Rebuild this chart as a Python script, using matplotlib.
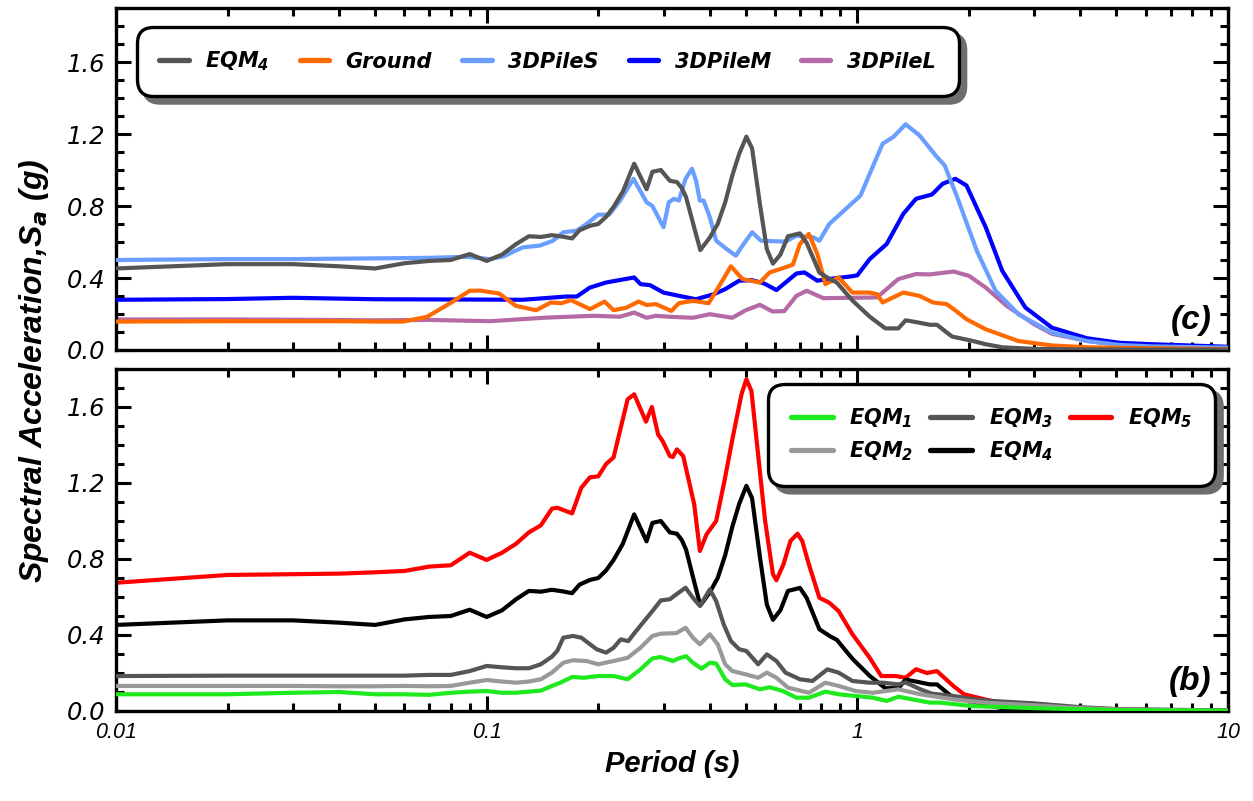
import matplotlib
matplotlib.use("Agg")
import matplotlib.pyplot as plt
from matplotlib import font_manager as fm
from matplotlib.lines import Line2D
from matplotlib.font_manager import FontProperties
from matplotlib.ticker import MultipleLocator, FixedLocator, LogLocator, NullFormatter

# ---------------- data (period [s], spectral acceleration [g]) ----------------
T_EQM1 = [0.01, 0.02, 0.03, 0.04, 0.05, 0.06, 0.07, 0.08, 0.09, 0.10, 0.11, 0.12, 0.13, 0.14, 0.15,
          0.158, 0.17, 0.183, 0.20, 0.22, 0.24, 0.26, 0.28, 0.295, 0.318, 0.33, 0.345, 0.36, 0.38,
          0.40, 0.416, 0.44, 0.46, 0.50, 0.546, 0.58, 0.63, 0.685, 0.74, 0.82, 0.89, 0.99, 1.1,
          1.2, 1.29, 1.41, 1.57, 1.67, 2.04, 3.0, 5.0, 10.0]
SA_EQM1 = [0.088, 0.088, 0.096, 0.100, 0.088, 0.088, 0.085, 0.096, 0.102, 0.105, 0.096, 0.096, 0.102,
           0.107, 0.132, 0.149, 0.179, 0.175, 0.184, 0.184, 0.167, 0.219, 0.277, 0.284, 0.263, 0.277,
           0.289, 0.254, 0.223, 0.254, 0.250, 0.167, 0.137, 0.140, 0.114, 0.125, 0.105, 0.070, 0.070,
           0.102, 0.088, 0.079, 0.070, 0.053, 0.075, 0.061, 0.044, 0.044, 0.026, 0.015, 0.005, 0.001]

T_EQM2 = [0.01, 0.02, 0.03, 0.04, 0.05, 0.06, 0.07, 0.08, 0.09, 0.10, 0.11, 0.12, 0.13, 0.14, 0.15,
          0.161, 0.171, 0.186, 0.20, 0.22, 0.24, 0.26, 0.28, 0.295, 0.325, 0.344, 0.36, 0.376, 0.40,
          0.42, 0.44, 0.46, 0.50, 0.54, 0.57, 0.605, 0.65, 0.74, 0.82, 0.89, 0.99, 1.1, 1.29, 1.48,
          1.82, 2.2, 3.0, 4.0, 5.0, 10.0]
SA_EQM2 = [0.132, 0.132, 0.132, 0.130, 0.130, 0.132, 0.130, 0.132, 0.149, 0.163, 0.155, 0.149, 0.155,
           0.167, 0.202, 0.254, 0.267, 0.263, 0.246, 0.263, 0.280, 0.333, 0.395, 0.407, 0.410, 0.438,
           0.386, 0.351, 0.404, 0.351, 0.246, 0.210, 0.193, 0.175, 0.202, 0.175, 0.123, 0.096, 0.149,
           0.132, 0.105, 0.096, 0.114, 0.088, 0.061, 0.044, 0.030, 0.015, 0.008, 0.002]

T_EQM3 = [0.01, 0.02, 0.03, 0.04, 0.05, 0.06, 0.07, 0.08, 0.09, 0.10, 0.11, 0.12, 0.13, 0.14, 0.15,
          0.155, 0.161, 0.171, 0.18, 0.198, 0.21, 0.22, 0.23, 0.241, 0.249, 0.264, 0.28, 0.295, 0.312,
          0.325, 0.344, 0.36, 0.376, 0.40, 0.416, 0.436, 0.456, 0.48, 0.502, 0.54, 0.57, 0.605, 0.64,
          0.70, 0.757, 0.83, 0.89, 0.97, 1.08, 1.17, 1.29, 1.35, 1.48, 1.59, 1.82, 2.04, 2.3, 3.0,
          4.0, 5.0, 10.0]
SA_EQM3 = [0.184, 0.186, 0.186, 0.186, 0.186, 0.186, 0.190, 0.190, 0.210, 0.237, 0.230, 0.225, 0.225,
           0.246, 0.286, 0.316, 0.386, 0.395, 0.386, 0.325, 0.307, 0.333, 0.377, 0.368, 0.404, 0.465,
           0.526, 0.582, 0.588, 0.614, 0.649, 0.596, 0.553, 0.640, 0.579, 0.456, 0.368, 0.325, 0.316,
           0.246, 0.298, 0.263, 0.202, 0.167, 0.158, 0.219, 0.202, 0.158, 0.149, 0.149, 0.140, 0.150,
           0.114, 0.091, 0.079, 0.063, 0.053, 0.040, 0.020, 0.010, 0.003]

T_EQM4 = [0.01, 0.02, 0.03, 0.04, 0.05, 0.06, 0.07, 0.08, 0.09, 0.10, 0.11, 0.12, 0.13, 0.14, 0.15,
          0.16, 0.17, 0.178, 0.19, 0.20, 0.21, 0.22, 0.233, 0.25, 0.27, 0.28, 0.295, 0.312, 0.326,
          0.336, 0.345, 0.363, 0.377, 0.40, 0.42, 0.44, 0.46, 0.48, 0.502, 0.52, 0.546, 0.57, 0.592,
          0.62, 0.65, 0.70, 0.73, 0.79, 0.85, 0.88, 0.97, 1.08, 1.19, 1.29, 1.35, 1.44, 1.57, 1.64,
          1.8, 2.05, 2.22, 2.46, 3.0, 4.0, 10.0]
SA_EQM4 = [0.453, 0.477, 0.477, 0.465, 0.453, 0.482, 0.495, 0.500, 0.533, 0.495, 0.530, 0.588, 0.632,
           0.628, 0.638, 0.630, 0.620, 0.665, 0.690, 0.700, 0.740, 0.795, 0.880, 1.035, 0.893, 0.990,
           1.000, 0.940, 0.933, 0.900, 0.850, 0.680, 0.555, 0.625, 0.700, 0.820, 0.970, 1.090, 1.185,
           1.120, 0.810, 0.560, 0.480, 0.530, 0.632, 0.648, 0.595, 0.430, 0.390, 0.375, 0.275, 0.185,
           0.120, 0.120, 0.165, 0.155, 0.140, 0.140, 0.075, 0.050, 0.032, 0.015, 0.006, 0.003, 0.002]

T_EQM5 = [0.01, 0.02, 0.03, 0.04, 0.05, 0.06, 0.07, 0.08, 0.09, 0.10, 0.11, 0.12, 0.13, 0.14, 0.15,
          0.155, 0.17, 0.18, 0.19, 0.20, 0.21, 0.22, 0.24, 0.25, 0.269, 0.279, 0.29, 0.2985, 0.312,
          0.318, 0.326, 0.339, 0.363, 0.376, 0.392, 0.416, 0.438, 0.461, 0.487, 0.502, 0.518, 0.534,
          0.564, 0.592, 0.605, 0.632, 0.66, 0.69, 0.71, 0.74, 0.79, 0.84, 0.89, 0.97, 1.08, 1.16,
          1.27, 1.35, 1.44, 1.54, 1.64, 1.82, 1.94, 2.22, 2.5, 3.0, 4.0, 6.0, 10.0]
SA_EQM5 = [0.675, 0.716, 0.720, 0.723, 0.730, 0.737, 0.760, 0.767, 0.833, 0.795, 0.833, 0.880, 0.940,
           0.977, 1.065, 1.070, 1.040, 1.175, 1.230, 1.235, 1.300, 1.335, 1.640, 1.667, 1.523, 1.600,
           1.456, 1.420, 1.342, 1.337, 1.377, 1.342, 1.088, 0.842, 0.930, 1.000, 1.210, 1.438, 1.667,
           1.746, 1.684, 1.438, 1.000, 0.720, 0.688, 0.772, 0.895, 0.933, 0.895, 0.772, 0.596, 0.570,
           0.526, 0.404, 0.280, 0.184, 0.184, 0.175, 0.220, 0.200, 0.210, 0.130, 0.088, 0.060, 0.040,
           0.030, 0.015, 0.005, 0.002]

T_GROUND = [0.01, 0.02, 0.03, 0.04, 0.051, 0.0595, 0.069, 0.079, 0.09, 0.096, 0.108, 0.12, 0.136,
            0.149, 0.159, 0.169, 0.19, 0.208, 0.22, 0.238, 0.257, 0.27, 0.286, 0.315, 0.33, 0.36,
            0.397, 0.427, 0.456, 0.49, 0.546, 0.58, 0.62, 0.67, 0.70, 0.74, 0.78, 0.82, 0.89, 0.97,
            1.08, 1.13, 1.17, 1.33, 1.47, 1.6, 1.74, 1.82, 1.97, 2.22, 2.72, 3.35, 4.2, 6.0, 10.0]
SA_GROUND = [0.158, 0.160, 0.160, 0.160, 0.158, 0.158, 0.184, 0.255, 0.329, 0.330, 0.314, 0.245,
             0.221, 0.264, 0.260, 0.277, 0.227, 0.269, 0.221, 0.235, 0.269, 0.250, 0.255, 0.217,
             0.260, 0.273, 0.260, 0.366, 0.465, 0.394, 0.375, 0.431, 0.450, 0.474, 0.589, 0.645,
             0.533, 0.366, 0.403, 0.319, 0.319, 0.310, 0.264, 0.319, 0.301, 0.264, 0.255, 0.227,
             0.171, 0.115, 0.050, 0.025, 0.015, 0.010, 0.005]

T_PILES = [0.01, 0.02, 0.03, 0.05, 0.07, 0.088, 0.102, 0.111, 0.125, 0.139, 0.151, 0.161, 0.175,
           0.186, 0.20, 0.214, 0.229, 0.249, 0.27, 0.28, 0.30, 0.31, 0.32, 0.33, 0.344, 0.358, 0.367,
           0.376, 0.385, 0.40, 0.416, 0.444, 0.47, 0.49, 0.52, 0.55, 0.64, 0.685, 0.76, 0.79, 0.84,
           1.02, 1.08, 1.17, 1.25, 1.35, 1.47, 1.64, 1.72, 1.86, 2.1, 2.36, 2.72, 3.35, 4.17, 5.1,
           6.25, 10.0]
SA_PILES = [0.500, 0.505, 0.505, 0.509, 0.512, 0.518, 0.505, 0.520, 0.570, 0.580, 0.607, 0.654, 0.663,
            0.700, 0.752, 0.752, 0.830, 0.951, 0.821, 0.800, 0.682, 0.821, 0.840, 0.830, 0.951, 1.007,
            0.942, 0.830, 0.830, 0.737, 0.607, 0.561, 0.524, 0.580, 0.654, 0.607, 0.602, 0.635, 0.626,
            0.607, 0.700, 0.858, 0.979, 1.146, 1.183, 1.254, 1.193, 1.072, 1.026, 0.849, 0.552, 0.329,
            0.199, 0.096, 0.050, 0.028, 0.020, 0.013]

T_PILEM = [0.01, 0.02, 0.03, 0.05, 0.10, 0.125, 0.164, 0.175, 0.19, 0.21, 0.25, 0.26, 0.276, 0.30,
           0.33, 0.367, 0.41, 0.44, 0.48, 0.52, 0.56, 0.605, 0.685, 0.72, 0.78, 0.82, 0.97, 1.0, 1.08,
           1.2, 1.33, 1.44, 1.59, 1.70, 1.84, 1.97, 2.22, 2.46, 2.84, 3.35, 4.17, 5.1, 6.25, 10.0]
SA_PILEM = [0.279, 0.283, 0.290, 0.282, 0.280, 0.279, 0.297, 0.297, 0.347, 0.375, 0.403, 0.366, 0.360,
            0.319, 0.301, 0.282, 0.310, 0.338, 0.385, 0.388, 0.370, 0.333, 0.425, 0.431, 0.385, 0.392,
            0.410, 0.415, 0.505, 0.589, 0.756, 0.840, 0.864, 0.924, 0.951, 0.914, 0.682, 0.440, 0.236,
            0.124, 0.065, 0.040, 0.032, 0.018]

T_PILEL = [0.01, 0.02, 0.03, 0.05, 0.07, 0.102, 0.145, 0.194, 0.229, 0.25, 0.27, 0.286, 0.31, 0.36,
           0.40, 0.46, 0.50, 0.546, 0.59, 0.635, 0.685, 0.73, 0.81, 1.13, 1.17, 1.29, 1.44, 1.57,
           1.82, 2.0, 2.22, 2.53, 3.0, 3.35, 4.17, 5.1, 10.0]
SA_PILEL = [0.170, 0.170, 0.168, 0.165, 0.167, 0.160, 0.180, 0.190, 0.185, 0.208, 0.179, 0.190, 0.185,
            0.179, 0.199, 0.179, 0.221, 0.251, 0.214, 0.216, 0.301, 0.329, 0.288, 0.292, 0.319, 0.394,
            0.422, 0.420, 0.436, 0.412, 0.347, 0.245, 0.143, 0.090, 0.050, 0.028, 0.013]

TOP_LABELS = ["EQM$_4$", "Ground", "3DPileS", "3DPileM", "3DPileL"]
BOT_LABELS = ["EQM$_1$", "EQM$_2$", "EQM$_3$", "EQM$_4$", "EQM$_5$"]
X_TICKS = [0.01, 0.1, 1, 10]
X_TICKLABELS = ["0.01", "0.1", "1", "10"]
Y_TICKS = [0.0, 0.4, 0.8, 1.2, 1.6]
Y_TICKLABELS = ["0.0", "0.4", "0.8", "1.2", "1.6"]

# ---------------- styling ----------------
names = {f.name for f in fm.fontManager.ttflist}
NARROW = "Liberation Sans Narrow" if "Liberation Sans Narrow" in names else "Liberation Sans"
plt.rcParams["mathtext.fontset"] = "custom"
plt.rcParams["mathtext.rm"] = "DejaVu Sans:bold:italic"
plt.rcParams["mathtext.it"] = "DejaVu Sans:bold:italic"
plt.rcParams["mathtext.bf"] = "DejaVu Sans:bold:italic"

C_EQM4_TOP = "#555555"
C_GROUND = "#ff6a00"
C_PILES = "#6a9eff"
C_PILEM = "#0000ff"
C_PILEL = "#b56aa6"
C_EQM1 = "#1eea1e"
C_EQM2 = "#999999"
C_EQM3 = "#555555"
C_EQM4 = "#000000"
C_EQM5 = "#ff0000"
LW = 3.0

fig = plt.figure(figsize=(12.53, 8.01), dpi=100)
L, W = 116 / 1253, 1112 / 1253
ax1 = fig.add_axes([L, 1 - 350 / 801, W, 342 / 801])
ax2 = fig.add_axes([L, 1 - 711 / 801, W, 342 / 801])

# top panel (c)
ax1.plot(T_PILEL, SA_PILEL, color=C_PILEL, lw=LW, zorder=2)
ax1.plot(T_PILEM, SA_PILEM, color=C_PILEM, lw=LW, zorder=3)
ax1.plot(T_PILES, SA_PILES, color=C_PILES, lw=LW, zorder=4)
ax1.plot(T_GROUND, SA_GROUND, color=C_GROUND, lw=LW, zorder=5)
ax1.plot(T_EQM4, SA_EQM4, color=C_EQM4_TOP, lw=LW, zorder=6)

# bottom panel (b)
ax2.plot(T_EQM5, SA_EQM5, color=C_EQM5, lw=LW, zorder=2)
ax2.plot(T_EQM4, SA_EQM4, color=C_EQM4, lw=LW, zorder=3)
ax2.plot(T_EQM3, SA_EQM3, color=C_EQM3, lw=LW, zorder=4)
ax2.plot(T_EQM2, SA_EQM2, color=C_EQM2, lw=LW, zorder=5)
ax2.plot(T_EQM1, SA_EQM1, color=C_EQM1, lw=LW, zorder=6)

tick_font = FontProperties(family="DejaVu Sans", style="italic", size=17.5)
xtick_font = FontProperties(family=NARROW, style="italic", size=15.5)
for ax, ytop in ((ax1, 1.9), (ax2, 1.8)):
    ax.set_xscale("log")
    ax.set_xlim(0.01, 10)
    ax.set_ylim(0, ytop)
    ax.xaxis.set_major_locator(FixedLocator(X_TICKS))
    ax.xaxis.set_minor_locator(LogLocator(base=10, subs=range(2, 10)))
    ax.xaxis.set_minor_formatter(NullFormatter())
    ax.yaxis.set_major_locator(FixedLocator(Y_TICKS))
    ax.yaxis.set_minor_locator(MultipleLocator(0.1))
    ax.set_yticklabels(Y_TICKLABELS, fontproperties=tick_font)
    ax.tick_params(which="both", direction="in", top=True, right=True, width=2.2)
    ax.tick_params(which="major", length=11, pad=8)
    ax.tick_params(which="minor", length=6)
    for s in ax.spines.values():
        s.set_linewidth(2.4)

ax1.set_xticklabels([])
ax2.set_xticklabels(X_TICKLABELS, fontproperties=xtick_font)

lab_font = FontProperties(family=NARROW, style="italic", weight="bold", size=21)
ax2.set_xlabel("Period (s)", fontproperties=lab_font, labelpad=5)
fig.text(0.027, 0.537, "Spectral Acceleration,S$_a$ (g)", rotation=90, ha="center", va="center",
         fontproperties=FontProperties(family=NARROW, style="italic", weight="bold", size=23))

panel_font = FontProperties(family="Liberation Sans", style="italic", weight="bold", size=24)
ax1.text(0.985, 0.04, "(c)", transform=ax1.transAxes, ha="right", va="bottom", fontproperties=panel_font)
ax2.text(0.985, 0.04, "(b)", transform=ax2.transAxes, ha="right", va="bottom", fontproperties=panel_font)

leg_font = FontProperties(family="DejaVu Sans", style="italic", weight="bold", size=15)
shadow = {"ox": 5, "oy": -5, "color": "#6e6e6e", "alpha": 1.0}

top_handles = [Line2D([], [], color=c, lw=3.8, solid_capstyle="round")
               for c in (C_EQM4_TOP, C_GROUND, C_PILES, C_PILEM, C_PILEL)]
leg1 = ax1.legend(top_handles, TOP_LABELS, loc="upper left", bbox_to_anchor=(0.026, 0.921), ncol=5,
                  prop=leg_font, frameon=True, fancybox=True, shadow=shadow, framealpha=1,
                  edgecolor="black", handlelength=1.4, handletextpad=0.8, columnspacing=1.45,
                  borderpad=0.7, borderaxespad=0.0)
leg1.get_frame().set_linewidth(2.4)
leg1.get_frame().set_boxstyle("round", pad=0.4, rounding_size=0.8)

bot_handles = [Line2D([], [], color=c, lw=3.8, solid_capstyle="round")
               for c in (C_EQM1, C_EQM2, C_EQM3, C_EQM4, C_EQM5)]
leg2 = ax2.legend(bot_handles, BOT_LABELS, loc="upper right", bbox_to_anchor=(0.981, 0.933), ncol=3,
                  prop=leg_font, frameon=True, fancybox=True, shadow=shadow, framealpha=1,
                  edgecolor="black", handlelength=2.0, handletextpad=0.8, columnspacing=0.8,
                  borderpad=0.7, labelspacing=0.45, borderaxespad=0.0)
leg2.get_frame().set_linewidth(2.4)
leg2.get_frame().set_boxstyle("round", pad=0.4, rounding_size=0.8)

fig.savefig("out.png", dpi=100)
